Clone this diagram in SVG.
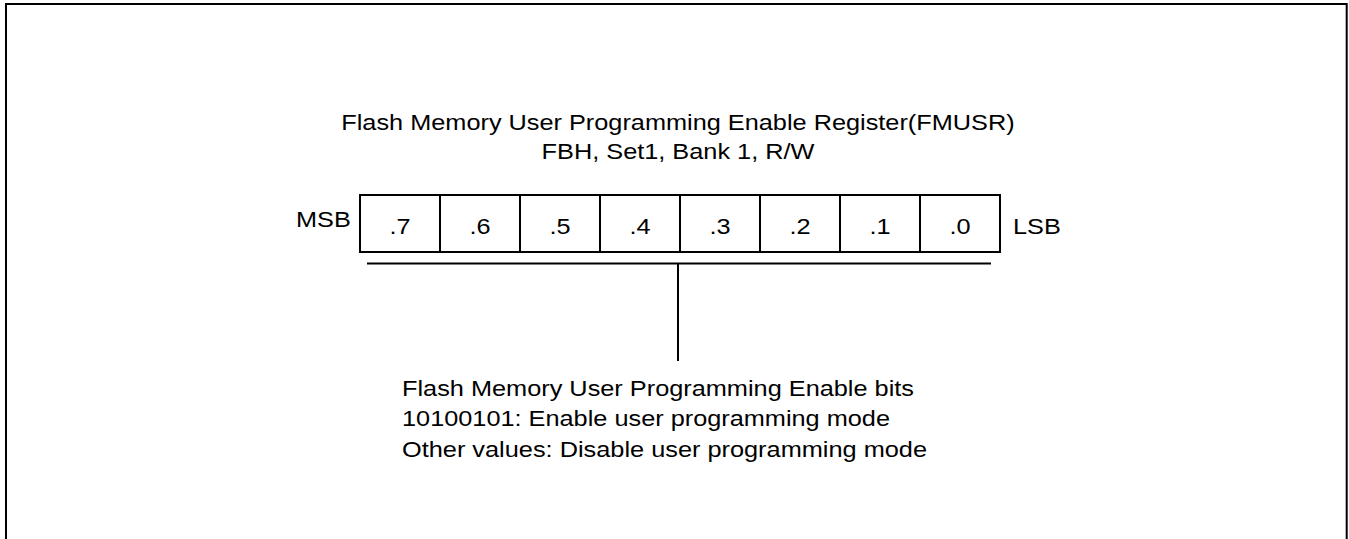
<svg xmlns="http://www.w3.org/2000/svg" width="1349" height="539" viewBox="0 0 1349 539">
  <style>
    .t { font-family: "Liberation Sans", Arial, sans-serif; font-size: 22px; fill: #000; }
    .ln { stroke: #000; stroke-width: 2; fill: none; }
  </style>
  <rect x="0" y="0" width="1349" height="539" fill="#fff"/>
  <rect id="frame" class="ln" x="6" y="4" width="1340.7" height="600"/>
  <g id="title">
    <text class="t" x="341.3" y="130" textLength="673.3" lengthAdjust="spacingAndGlyphs">Flash Memory User Programming Enable Register(FMUSR)</text>
    <text class="t" x="541.6" y="159" textLength="272.8" lengthAdjust="spacingAndGlyphs">FBH, Set1, Bank 1, R/W</text>
  </g>
  <g id="register">
    <text class="t" x="296" y="227" textLength="54.8" lengthAdjust="spacingAndGlyphs">MSB</text>
    <rect class="ln" x="360" y="195" width="640" height="57"/>
    <line class="ln" x1="440" y1="195" x2="440" y2="252"/>
    <line class="ln" x1="520" y1="195" x2="520" y2="252"/>
    <line class="ln" x1="600" y1="195" x2="600" y2="252"/>
    <line class="ln" x1="680" y1="195" x2="680" y2="252"/>
    <line class="ln" x1="760" y1="195" x2="760" y2="252"/>
    <line class="ln" x1="840" y1="195" x2="840" y2="252"/>
    <line class="ln" x1="920" y1="195" x2="920" y2="252"/>
    <text class="t" x="389.5" y="234" textLength="21.1" lengthAdjust="spacingAndGlyphs">.7</text>
    <text class="t" x="469.5" y="234" textLength="21.1" lengthAdjust="spacingAndGlyphs">.6</text>
    <text class="t" x="549.5" y="234" textLength="21.1" lengthAdjust="spacingAndGlyphs">.5</text>
    <text class="t" x="629.5" y="234" textLength="21.1" lengthAdjust="spacingAndGlyphs">.4</text>
    <text class="t" x="709.5" y="234" textLength="21.1" lengthAdjust="spacingAndGlyphs">.3</text>
    <text class="t" x="789.5" y="234" textLength="21.1" lengthAdjust="spacingAndGlyphs">.2</text>
    <text class="t" x="869.5" y="234" textLength="21.1" lengthAdjust="spacingAndGlyphs">.1</text>
    <text class="t" x="949.5" y="234" textLength="21.1" lengthAdjust="spacingAndGlyphs">.0</text>
    <text class="t" x="1013" y="233.5" textLength="47.8" lengthAdjust="spacingAndGlyphs">LSB</text>
  </g>
  <g id="connectors">
    <line class="ln" x1="367" y1="263.5" x2="991" y2="263.5"/>
    <line class="ln" x1="678" y1="263.5" x2="678" y2="361"/>
  </g>
  <g id="description">
    <text class="t" x="402" y="396" textLength="512" lengthAdjust="spacingAndGlyphs">Flash Memory User Programming Enable bits</text>
    <text class="t" x="402" y="426" textLength="488" lengthAdjust="spacingAndGlyphs">10100101: Enable user programming mode</text>
    <text class="t" x="402" y="456.5" textLength="525" lengthAdjust="spacingAndGlyphs">Other values: Disable user programming mode</text>
  </g>
</svg>
